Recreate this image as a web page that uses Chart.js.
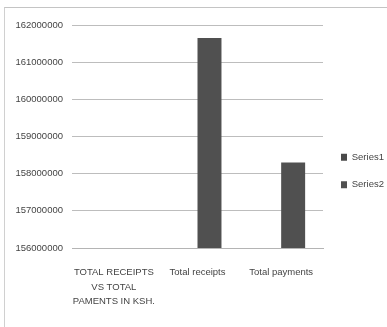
<!DOCTYPE html>
<html>
<head>
<meta charset="utf-8">
<script src="https://cdn.jsdelivr.net/npm/chart.js@4"></script>
<style>
  html, body { margin: 0; padding: 0; background: #fff; }
  #frame { position: absolute; left: 4px; top: 7px; width: 382px; height: 319px;
           border-top: 1px solid #c4c4c4; border-left: 1px solid #d0d0d0; }
</style>
</head>
<body>
<div id="frame"><canvas id="chart" width="382" height="319"></canvas></div>
<script>
// values
const categories = [['TOTAL RECEIPTS', 'VS TOTAL', 'PAMENTS IN KSH.'], 'Total receipts', 'Total payments'];
const series1 = [null, null, null];
const series2 = [null, 161650000, 158300000];
const yMin = 156000000;
const yMax = 162000000;
const yStep = 1000000;

const font = { family: '"Liberation Sans", sans-serif', size: 9.5 };

new Chart(document.getElementById('chart').getContext('2d'), {
    type: 'bar',
    data: {
        labels: categories,
        datasets: [
            { label: 'Series1', data: series1, backgroundColor: '#4a4a4a' },
            { label: 'Series2', data: series2, backgroundColor: '#505050' }
        ]
    },
    options: {
        responsive: false,
        animation: false,
        categoryPercentage: 0.573,
        barPercentage: 1,
        layout: { padding: { top: 17, bottom: 10, left: 0, right: 0 } },
        plugins: {
            tooltip: { enabled: false },
            legend: {
                position: 'right',
                maxWidth: 64,
                labels: { color: '#444', font: font, boxWidth: 6, boxHeight: 7, padding: 18 }
            }
        },
        scales: {
            x: {
                grid: { display: false, drawTicks: false },
                border: { color: '#b4b4b4' },
                ticks: { color: '#444', font: { ...font, lineHeight: 1.55 }, padding: 17, maxRotation: 0, autoSkip: false },
                afterFit: (s) => { s.height = 69; }
            },
            y: {
                min: yMin, max: yMax,
                grid: { color: '#bdbdbd', drawTicks: false },
                border: { display: false },
                ticks: { stepSize: yStep, color: '#444', font: font, padding: 9, callback: (v) => String(v) },
                afterFit: (s) => { s.width = 67; }
            }
        }
    }
});
</script>
</body>
</html>
